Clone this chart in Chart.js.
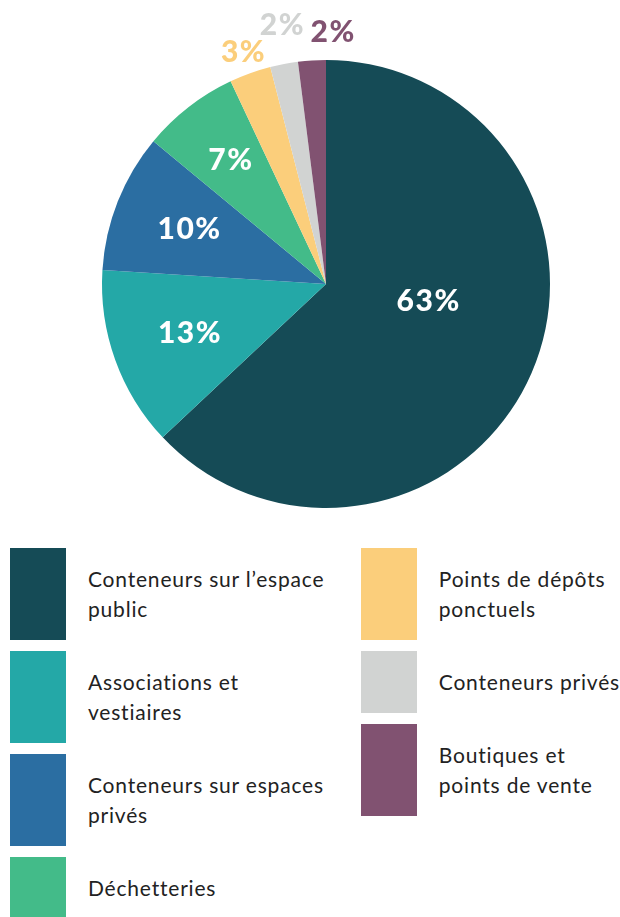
<!DOCTYPE html>
<html>
<head>
<meta charset="utf-8">
<script src="https://cdn.jsdelivr.net/npm/chart.js@4/dist/chart.umd.min.js"></script>
<style>
  body { margin: 0; background: #fff; font-family: Lato, "Noto Sans", sans-serif; }
  #wrap { position: relative; width: 620px; height: 520px; }
  #legend { position: absolute; top: 548px; left: 10px; width: 610px; display: flex; }
  .col { display: flex; flex-direction: column; gap: 11px; }
  .col.left { width: 352px; }
  .item { display: flex; align-items: center; }
  .box { width: 56px; flex: none; align-self: stretch; }
  .txt { margin-left: 22px; padding: 16px 0; font-size: 21px; letter-spacing: 0.8px; line-height: 30px; color: #222; white-space: nowrap; }
</style>
</head>
<body>
<div id="wrap"><canvas id="chartContainer" width="620" height="520"></canvas></div>
<div id="legend"><div class="col left"></div><div class="col right"></div></div>
<script>
const labels = ['Conteneurs sur l\u2019espace public', 'Associations et vestiaires', 'Conteneurs sur espaces privés', 'Déchetteries', 'Points de dépôts ponctuels', 'Conteneurs privés', 'Boutiques et points de vente'];
const legendLines = [['Conteneurs sur l\u2019espace', 'public'], ['Associations et', 'vestiaires'], ['Conteneurs sur espaces', 'privés'], ['Déchetteries'], ['Points de dépôts', 'ponctuels'], ['Conteneurs privés'], ['Boutiques et', 'points de vente']];
const values = [63, 13, 10, 7, 3, 2, 2];
const colors = ['#154b56', '#24a8a7', '#2b6ea2', '#43bb89', '#fbce7b', '#d1d3d2', '#815271'];
const labelColors = ['#fff', '#fff', '#fff', '#fff', '#fbce7b', '#d1d3d2', '#815271'];
// label placement: fraction of radius, angle shift in degrees
const labelRadius = [0.46, 0.65, 0.66, 0.70, 1.10, 1.17, 1.125];
const labelShift = [-14, 0, 0, 0, 0, 1, 5];

const pctLabels = {
  id: 'pctLabels',
  afterDatasetsDraw(chart) {
    const c = chart.ctx;
    const meta = chart.getDatasetMeta(0);
    c.save();
    c.font = '900 30px Lato, sans-serif';
    c.letterSpacing = '1.5px';
    c.textAlign = 'center';
    c.textBaseline = 'middle';
    meta.data.forEach((arc, i) => {
      const mid = (arc.startAngle + arc.endAngle) / 2 + labelShift[i] * Math.PI / 180;
      const r = arc.outerRadius * labelRadius[i];
      c.fillStyle = labelColors[i];
      c.fillText(values[i] + '%', arc.x + r * Math.cos(mid) + 1, arc.y + r * Math.sin(mid));
    });
    c.restore();
  }
};

const ctx = document.getElementById('chartContainer').getContext('2d');
new Chart(ctx, {
  type: 'pie',
  data: {
    labels: labels,
    datasets: [{
      data: values,
      backgroundColor: colors,
      borderWidth: 0
    }]
  },
  options: {
    responsive: false,
    animation: false,
    layout: { padding: { top: 60, bottom: 12, left: 102, right: 70 } },
    plugins: { legend: { display: false }, tooltip: { enabled: false } }
  },
  plugins: [pctLabels]
});

const cols = document.querySelectorAll('#legend .col');
labels.forEach((l, i) => {
  const item = document.createElement('div');
  item.className = 'item';
  const box = document.createElement('div');
  box.className = 'box';
  box.style.background = colors[i];
  const txt = document.createElement('div');
  txt.className = 'txt';
  txt.innerHTML = legendLines[i].join('<br>');
  item.appendChild(box);
  item.appendChild(txt);
  cols[i < 4 ? 0 : 1].appendChild(item);
});
</script>
</body>
</html>
